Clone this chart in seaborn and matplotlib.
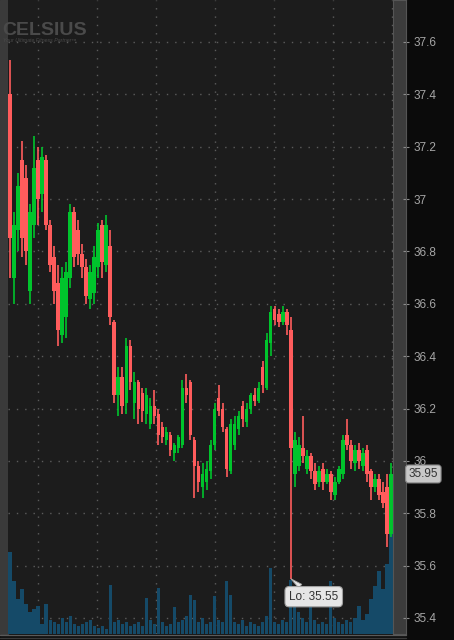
import numpy as np
import seaborn as sns
import matplotlib.pyplot as plt
import matplotlib.transforms as mtransforms
from matplotlib.patches import Rectangle
from matplotlib.lines import Line2D

# one candle per slot
opens = [37.40, 36.70, 36.88, 37.15, 37.08, 36.65, 36.90, 37.15, 37.02, 37.15,
         36.90, 36.78, 36.68, 36.48, 36.55, 36.70, 36.95, 36.88, 36.79, 36.74,
         36.62, 36.64, 36.74, 36.90, 36.75, 36.82, 36.53, 36.25, 36.32, 36.22,
         36.44, 36.22, 36.30, 36.26, 36.18, 36.14, 36.21, 36.18, 36.13, 36.08,
         36.10, 36.03, 36.05, 36.06, 36.28, 36.30, 36.08, 35.98, 35.90, 35.92,
         35.96, 36.06, 36.24, 36.20, 36.12, 35.96, 36.06, 36.12, 36.21, 36.15,
         36.20, 36.25, 36.23, 36.36, 36.28, 36.45, 36.58, 36.56, 36.53, 36.57,
         36.50, 35.95, 35.98, 36.05, 35.97, 36.02, 35.96, 35.92, 35.97, 35.92,
         35.95, 35.87, 35.92, 35.95, 36.10, 36.06, 35.99, 36.04, 35.98, 36.04,
         35.96, 35.90, 35.93, 35.88, 35.90, 35.72]
highs = [37.53, 36.95, 37.10, 37.22, 37.13, 36.98, 37.24, 37.20, 37.20, 37.17,
         36.92, 36.82, 36.75, 36.74, 36.76, 36.98, 36.97, 36.92, 36.83, 36.77,
         36.75, 36.82, 36.91, 36.92, 36.94, 36.88, 36.54, 36.36, 36.36, 36.47,
         36.46, 36.34, 36.31, 36.28, 36.28, 36.24, 36.27, 36.20, 36.15, 36.13,
         36.11, 36.07, 36.10, 36.31, 36.33, 36.31, 36.09, 36.00, 35.99, 36.00,
         36.08, 36.22, 36.29, 36.22, 36.13, 36.16, 36.17, 36.19, 36.23, 36.22,
         36.26, 36.28, 36.30, 36.38, 36.49, 36.59, 36.59, 36.58, 36.59, 36.58,
         36.55, 36.11, 36.09, 36.17, 36.04, 36.03, 35.99, 35.98, 35.99, 35.97,
         35.96, 35.94, 35.98, 36.10, 36.16, 36.08, 36.06, 36.07, 36.05, 36.06,
         35.97, 35.95, 35.95, 35.92, 35.95, 35.99]
lows = [36.70, 36.60, 36.80, 36.78, 36.75, 36.60, 36.85, 36.90, 36.95, 36.88,
        36.72, 36.60, 36.44, 36.45, 36.47, 36.66, 36.74, 36.75, 36.70, 36.60,
        36.58, 36.60, 36.70, 36.70, 36.72, 36.52, 36.22, 36.17, 36.18, 36.18,
        36.27, 36.16, 36.14, 36.15, 36.14, 36.12, 36.14, 36.06, 36.07, 36.06,
        36.02, 36.00, 36.03, 36.05, 36.22, 36.08, 35.86, 35.88, 35.86, 35.89,
        35.93, 36.04, 36.17, 36.11, 35.94, 35.95, 36.04, 36.10, 36.13, 36.13,
        36.18, 36.21, 36.22, 36.26, 36.27, 36.40, 36.52, 36.51, 36.52, 36.48,
        35.55, 35.90, 35.96, 35.99, 35.95, 35.93, 35.89, 35.90, 35.89, 35.91,
        35.85, 35.85, 35.91, 35.93, 36.04, 35.97, 35.96, 35.97, 35.96, 35.92,
        35.85, 35.88, 35.85, 35.82, 35.67, 35.71]
closes = [36.85, 36.90, 37.05, 36.85, 36.80, 36.95, 37.12, 37.00, 37.16, 36.90,
          36.75, 36.65, 36.50, 36.70, 36.72, 36.95, 36.78, 36.79, 36.74, 36.63,
          36.72, 36.78, 36.88, 36.76, 36.90, 36.55, 36.25, 36.32, 36.21, 36.44,
          36.30, 36.30, 36.20, 36.19, 36.25, 36.21, 36.17, 36.10, 36.09, 36.11,
          36.04, 36.06, 36.09, 36.28, 36.25, 36.10, 35.98, 35.92, 35.95, 35.97,
          36.06, 36.20, 36.19, 36.13, 35.97, 36.14, 36.14, 36.17, 36.16, 36.20,
          36.25, 36.23, 36.28, 36.29, 36.46, 36.57, 36.54, 36.53, 36.57, 36.52,
          36.05, 36.08, 36.06, 36.02, 36.02, 35.96, 35.91, 35.96, 35.92, 35.95,
          35.88, 35.92, 35.97, 36.08, 36.06, 36.00, 36.04, 36.00, 36.03, 35.95,
          35.90, 35.93, 35.87, 35.84, 35.72, 35.95]
volumes = [82, 53, 35, 45, 30, 22, 25, 28, 10, 30,
           14, 12, 10, 16, 12, 18, 10, 8, 10, 12,
           14, 8, 6, 8, 5, 49, 12, 14, 10, 12,
           8, 10, 12, 8, 36, 14, 10, 46, 12, 8,
           10, 27, 12, 14, 18, 39, 34, 12, 16, 10,
           12, 38, 14, 12, 53, 39, 12, 10, 14, 8,
           12, 10, 8, 12, 18, 66, 12, 10, 14, 12,
           54, 34, 22, 16, 12, 28, 14, 10, 12, 10,
           53, 16, 12, 10, 14, 12, 16, 28, 14, 20,
           35, 48, 63, 45, 70, 104]
price_ticks = [35.4, 35.6, 35.8, 36.0, 36.2, 36.4, 36.6, 36.8, 37.0, 37.2, 37.4, 37.6]
last_label = "35.95"
low_label = "Lo: 35.55"

UP = "#00c42c"
DOWN = "#ff5c5c"
VOL = "#154a68"
BG = "#1c1c1c"
W, H = 454, 640
PRICE_LIM = (35.3387, 37.7604)

sns.set_theme(style="dark")
plt.rcParams['font.family'] = ['Liberation Sans', 'DejaVu Sans']

fig = plt.figure(figsize=(W / 100, H / 100), dpi=100, facecolor="#0b0b0b")
rect = [8 / W, 6 / H, 385 / W, 634 / H]
n = len(closes)
idx = np.arange(n)

# background + dotted grid
ax_bg = fig.add_axes(rect, facecolor=BG)
ax_bg.set_xlim(-0.5, n - 0.5)
ax_bg.set_ylim(*PRICE_LIM)
ax_bg.set_yticks(price_ticks)
ax_bg.set_xticks(np.arange(6.98, n, 14.72))
ax_bg.grid(True, color="#5c5c5c", linestyle=(0, (1, 5)), linewidth=1)
ax_bg.tick_params(length=0, labelleft=False, labelbottom=False)
for s in ax_bg.spines.values():
    s.set_visible(False)

# volume
ax_vol = fig.add_axes(rect, facecolor="none")
sns.barplot(x=idx, y=volumes, ax=ax_vol, color=VOL, width=0.8, saturation=1, linewidth=0)
ax_vol.set_xlim(-0.5, n - 0.5)
ax_vol.set_ylim(0, 634)
ax_vol.axis("off")

# candles
ax = fig.add_axes(rect, facecolor="none")
o, h, l, c = map(np.array, (opens, highs, lows, closes))
colors = np.where(c >= o, UP, DOWN)
ax.vlines(idx, l, h, colors=colors, linewidth=1.2)
body = np.maximum(np.abs(c - o), 0.004)
ax.bar(idx, body, bottom=np.minimum(o, c), width=0.9, color=colors, linewidth=0)
ax.set_xlim(-0.5, n - 0.5)
ax.set_ylim(*PRICE_LIM)
ax.axis("off")

ax.annotate(low_label, xy=(70, lows[70]), xytext=(23, -18), textcoords="offset pixels",
            ha="center", va="center", fontsize=8.5, color="#333333",
            bbox=dict(boxstyle="round,pad=0.35", fc="#e6e6e6", ec="#a0a0a0", lw=0.8),
            arrowprops=dict(arrowstyle="wedge,tail_width=0.4", fc="#e6e6e6", ec="#a0a0a0",
                            lw=0.6, shrinkA=0, shrinkB=0))

# right price strip with ticks
ax_s = fig.add_axes([393 / W, 6 / H, 13 / W, 634 / H], facecolor="#3c3c3c")
ax_s.set_ylim(*PRICE_LIM)
ax_s.set_xticks([])
ax_s.set_yticks(price_ticks)
ax_s.set_yticklabels(["{:g}".format(t) for t in price_ticks])
ax_s.yaxis.tick_right()
ax_s.tick_params(axis="y", direction="inout", length=5, width=0.8, color="#8c8c8c",
                 labelcolor="#a6a6a6", labelsize=8.5, pad=3)
for s in ax_s.spines.values():
    s.set_color("#555555")
    s.set_linewidth(0.8)
tr = mtransforms.blended_transform_factory(ax_s.transAxes, ax_s.transData)
ax_s.text(1.2, closes[-1], last_label, transform=tr, ha="left", va="center",
          fontsize=8.5, color="#333333",
          bbox=dict(boxstyle="round,pad=0.25", fc="#c8c8c8", ec="#8a8a8a", lw=0.8))

# frame pieces
fig.patches.append(Rectangle((0, 6 / H), 8 / W, 634 / H, transform=fig.transFigure,
                             color="#3a3a3a", zorder=-1))
fig.lines.append(Line2D([0, 406 / W], [5 / H, 5 / H], transform=fig.transFigure,
                        color="#5a5a5a", lw=1))
fig.lines.append(Line2D([0, 406 / W], [2 / H, 2 / H], transform=fig.transFigure,
                        color="#3a3a3a", lw=1))

# watermark
fig.text(2 / W, 1 - 35 / H, "CELSIUS", fontsize=14, fontweight="bold", color="#4a4a4a",
         family=["Liberation Sans Narrow", "Liberation Sans"], va="baseline")
fig.text(3 / W, 1 - 42.5 / H, "Your Ultimate Fitness Partner\u2122", fontsize=3.8,
         style="italic", color="#4a4a4a", va="baseline")

fig.savefig("out.png", dpi=100, facecolor=fig.get_facecolor())
